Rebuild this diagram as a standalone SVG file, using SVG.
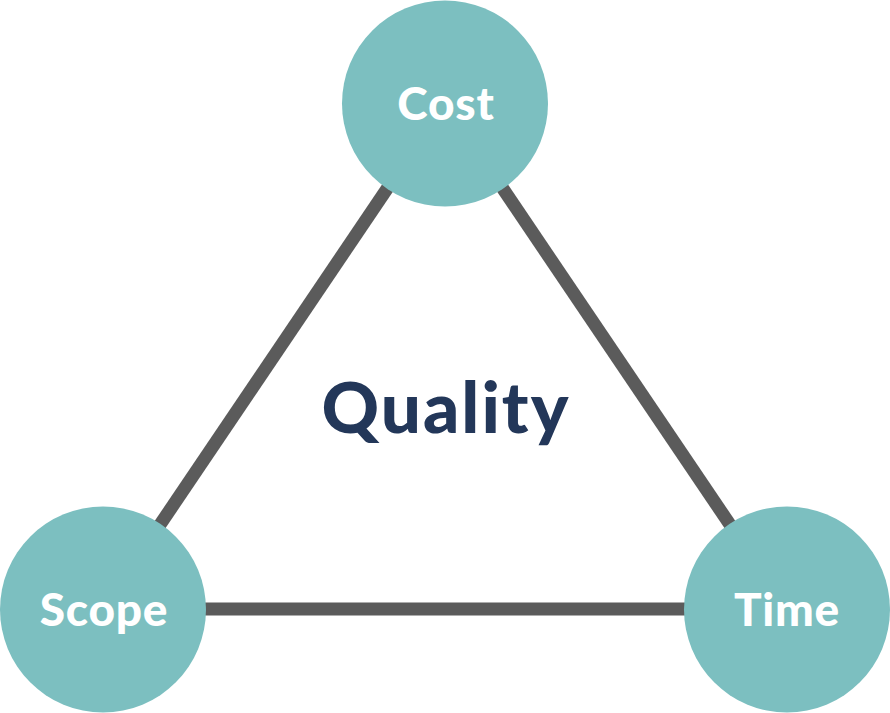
<svg xmlns="http://www.w3.org/2000/svg" width="890" height="713" viewBox="0 0 890 713">
<style>
.node circle{fill:#7cbfc0}
.lbl{font-family:Lato,"Open Sans",sans-serif;font-weight:900;fill:#ffffff;font-size:46px;letter-spacing:0.8px;text-anchor:middle}
.edge{stroke:#5b5b5b;stroke-width:13;fill:none}
.q{font-family:Lato,"Open Sans",sans-serif;font-weight:900;fill:#233759;font-size:71px;letter-spacing:2px;text-anchor:middle}
</style>
<rect width="890" height="713" fill="#ffffff"/>
<g id="connectors">
<line class="edge" x1="445" y1="103" x2="103" y2="609"/>
<line class="edge" x1="445" y1="103" x2="787" y2="609"/>
<line class="edge" x1="103" y1="609" x2="787" y2="609"/>
</g>
<g id="cost" class="node"><circle cx="445" cy="103.5" r="103"/><text class="lbl" x="446" y="120">Cost</text></g>
<g id="scope" class="node"><circle cx="103" cy="609.5" r="103"/><text class="lbl" x="104" y="626">Scope</text></g>
<g id="time" class="node"><circle cx="787" cy="609.5" r="103"/><text class="lbl" x="787" y="626">Time</text></g>
<g id="quality"><text class="q" x="446" y="433">Quality</text></g>
</svg>
